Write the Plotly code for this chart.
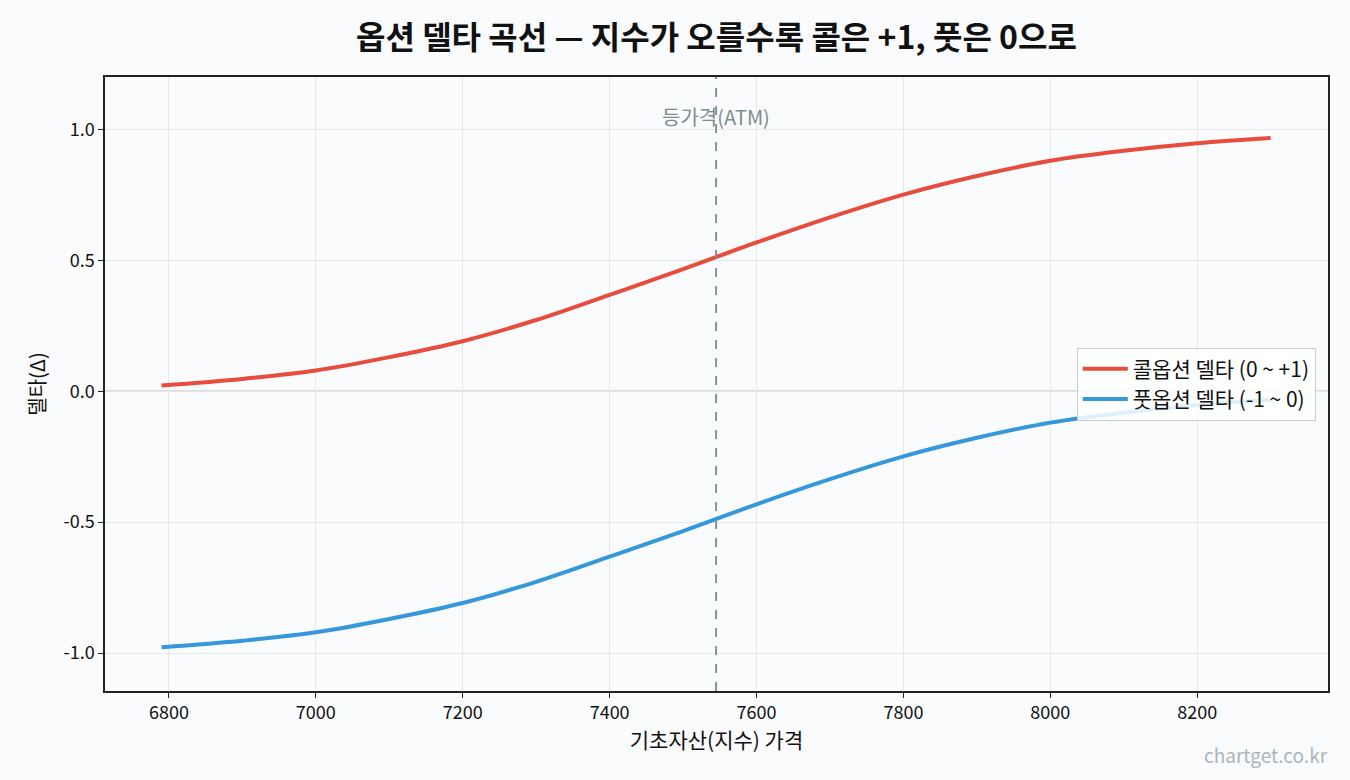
import plotly.graph_objects as go

# Data
spot = [6790, 6900, 7000, 7100, 7200, 7300, 7400, 7500, 7600, 7700, 7800, 7900, 8000, 8100, 8200, 8300]
call_delta = [0.022, 0.047, 0.079, 0.130, 0.191, 0.272, 0.368, 0.466, 0.568, 0.664, 0.751, 0.822, 0.880, 0.918, 0.947, 0.967]
put_delta = [-0.978, -0.953, -0.921, -0.870, -0.809, -0.728, -0.632, -0.534, -0.432, -0.336, -0.249, -0.178, -0.120, -0.082, -0.053, -0.033]
atm_price = 7545
x_ticks = [6800, 7000, 7200, 7400, 7600, 7800, 8000, 8200]
y_ticks = [-1.0, -0.5, 0.0, 0.5, 1.0]
y_tick_labels = ["-1.0", "-0.5", "0.0", "0.5", "1.0"]

FONT = "Noto Sans CJK KR"
BG = "#f9fbfd"

fig = go.Figure()
fig.add_trace(go.Scatter(x=spot, y=call_delta, mode="lines", name="콜옵션 델타 (0 ~ +1)",
                         line=dict(color="#e74c3c", width=4, shape="spline", smoothing=1.0)))
fig.add_trace(go.Scatter(x=spot, y=put_delta, mode="lines", name="풋옵션 델타 (-1 ~ 0)",
                         line=dict(color="#3498db", width=4, shape="spline", smoothing=1.0)))

# zero line
fig.add_hline(y=0, line=dict(color="#b4bcc4", width=1.5), layer="below")
# ATM vertical line
fig.add_vline(x=atm_price, line=dict(color="#7f8c8d", width=1.8, dash="dash"))
fig.add_annotation(x=atm_price, y=1.05, text="등가격(ATM)", showarrow=False, xref="x", yref="y",
                   font=dict(family=FONT, size=20, color="#7f8c8d"), xanchor="center", yanchor="middle")

fig.add_annotation(x=1.0, y=0.0, xref="paper", yref="paper", text="chartget.co.kr", showarrow=False,
                   xanchor="right", yanchor="top", yshift=-48, xshift=2,
                   font=dict(family=FONT, size=19, color="#aab4be"))

fig.update_layout(
    width=1350, height=780,
    margin=dict(l=105, r=22, t=77, b=89),
    paper_bgcolor=BG, plot_bgcolor=BG,
    font=dict(family=FONT, size=18, color="#111111"),
    title=dict(text="<b>옵션 델타 곡선 — 지수가 오를수록 콜은 +1, 풋은 0으로</b>", x=0.5307, xanchor="center",
               y=0.951, yanchor="middle", font=dict(family=FONT, size=32, color="#111111")),
    xaxis=dict(range=[6713, 8378], tickvals=x_ticks, ticks="outside", ticklen=5, tickcolor="#222222",
               showline=True, linecolor="#222222", linewidth=1.5, mirror=True,
               showgrid=True, gridcolor="#e6e7e9", gridwidth=1, zeroline=False,
               title=dict(text="기초자산(지수) 가격", font=dict(family=FONT, size=21), standoff=10),
               tickfont=dict(family=FONT, size=18)),
    yaxis=dict(range=[-1.145, 1.2], tickvals=y_ticks, ticktext=y_tick_labels, ticks="outside", ticklen=5,
               tickcolor="#222222", showline=True, linecolor="#222222", linewidth=1.5, mirror=True,
               showgrid=True, gridcolor="#e6e7e9", gridwidth=1, zeroline=False,
               title=dict(text="델타(Δ)", font=dict(family=FONT, size=20), standoff=12),
               tickfont=dict(family=FONT, size=18)),
    legend=dict(x=0.99, xanchor="right", y=0.5, yanchor="middle",
                bgcolor="rgba(255,255,255,0.85)", bordercolor="#cccccc", borderwidth=1,
                font=dict(family=FONT, size=21), tracegroupgap=0, itemwidth=45),
    showlegend=True,
)

fig.write_html("out.html")
